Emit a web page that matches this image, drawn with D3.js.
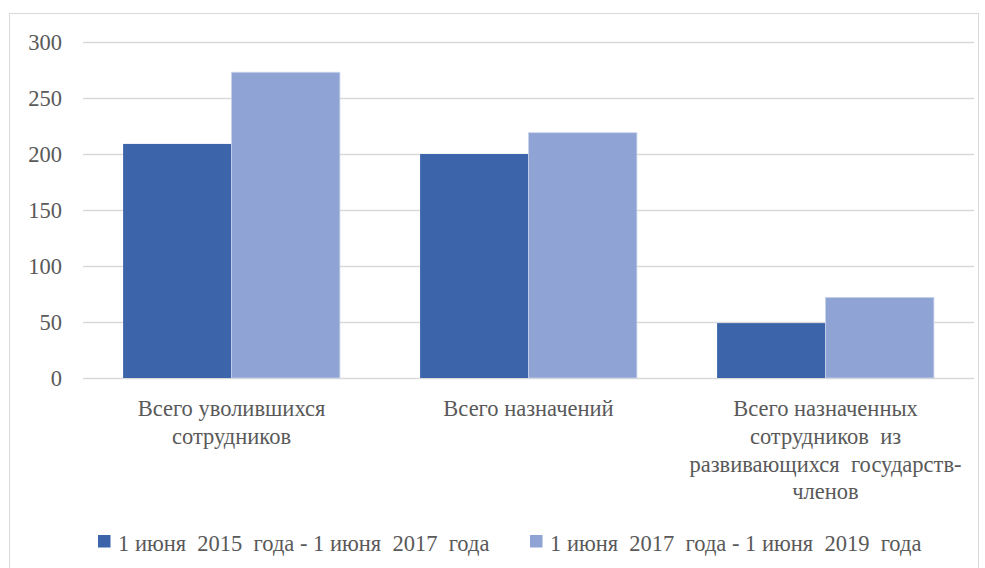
<!DOCTYPE html>
<html>
<head>
<meta charset="utf-8">
<script src="https://cdn.jsdelivr.net/npm/d3@7"></script>
<style>
  body { margin: 0; background: #fff; }
</style>
</head>
<body>
<div id="chart"></div>
<script>
// chart data
var categories = [
  ['Всего уволившихся', 'сотрудников'],
  ['Всего назначений'],
  ['Всего назначенных', 'сотрудников  из', 'развивающихся  государств-', 'членов']
];
var seriesNames = ['1 июня  2015  года - 1 июня  2017  года', '1 июня  2017  года - 1 июня  2019  года'];
var series2015 = [209, 200, 49];
var series2017 = [273, 219, 72];
var yTicks = [0, 50, 100, 150, 200, 250, 300];

var svgWidth = 985;
var svgHeight = 568;

var margin = { top: 42, right: 11, bottom: 190, left: 83 };
var width = svgWidth - margin.left - margin.right;
var height = svgHeight - margin.top - margin.bottom;

var colors = ['#3c64ab', '#8fa3d4'];
var fontFamily = "'Liberation Serif', 'Times New Roman', Times, Tinos, 'Nimbus Roman', 'Noto Serif', FreeSerif, 'DejaVu Serif', serif";
var textColor = '#595959';

var svg = d3.select('#chart').append('svg')
  .attr('width', svgWidth)
  .attr('height', svgHeight);

// outer frame
svg.append('rect')
  .attr('x', 9.5).attr('y', 13.5)
  .attr('width', 969).attr('height', 560)
  .attr('fill', 'none')
  .attr('stroke', '#d9d9d9');

var chartGroup = svg.append('g')
  .attr('transform', `translate(${margin.left}, ${margin.top})`);

var x0 = d3.scaleBand()
  .domain(d3.range(categories.length))
  .range([0, width])
  .paddingInner(0.27)
  .paddingOuter(0.135);

var x1 = d3.scaleBand()
  .domain([0, 1])
  .range([0, x0.bandwidth()]);

var y = d3.scaleLinear()
  .domain([0, 300])
  .range([height, 0]);

// gridlines
chartGroup.selectAll('.grid')
  .data(yTicks)
  .enter()
  .append('line')
  .attr('x1', 0)
  .attr('x2', width)
  .attr('y1', d => Math.round(y(d)) + 0.5)
  .attr('y2', d => Math.round(y(d)) + 0.5)
  .attr('stroke', '#d9d9d9')
  .attr('stroke-width', 1.3);

// y axis labels
var leftAxis = d3.axisLeft(y).tickValues(yTicks).tickSize(0).tickPadding(21);
var yAxis = chartGroup.append('g').call(leftAxis);
yAxis.select('.domain').remove();
yAxis.attr('font-family', fontFamily).attr('font-size', '22.5px');
yAxis.selectAll('text')
  .attr('fill', textColor);

// bars
var rows = categories.map((c, i) => [series2015[i], series2017[i]]);

var groups = chartGroup.selectAll('.grp')
  .data(rows)
  .enter()
  .append('g')
  .attr('transform', (d, i) => `translate(${x0(i)}, 0)`);

groups.selectAll('rect')
  .data(d => d)
  .enter()
  .append('rect')
  .attr('x', (d, j) => x1(j))
  .attr('y', d => y(d))
  .attr('width', x1.bandwidth())
  .attr('height', d => height - y(d))
  .attr('fill', (d, j) => colors[j])
  .attr('stroke', (d, j) => j === 1 ? '#c9d3ec' : 'none')
  .attr('stroke-width', 0.8);

// category labels
var catGroup = chartGroup.selectAll('.cat')
  .data(categories)
  .enter()
  .append('text')
  .attr('text-anchor', 'middle')
  .attr('font-family', fontFamily)
  .attr('font-size', '22.5px')
  .attr('fill', textColor)
  .style('white-space', 'pre')
  .attr('transform', (d, i) => `translate(${x0(i) + x0.bandwidth() / 2}, ${height + 38})`);

catGroup.selectAll('tspan')
  .data(d => d)
  .enter()
  .append('tspan')
  .attr('x', 0)
  .attr('y', (d, k) => k * 27.8)
  .text(d => d);

// legend
var legendX = [98, 530];
var legend = svg.selectAll('.legend')
  .data(seriesNames)
  .enter()
  .append('g')
  .attr('transform', (d, i) => `translate(${legendX[i]}, 535)`);

legend.append('rect')
  .attr('width', 12.5)
  .attr('height', 12.5)
  .attr('fill', (d, i) => colors[i]);

legend.append('text')
  .attr('x', 20)
  .attr('y', 16)
  .attr('font-family', fontFamily)
  .attr('font-size', '22.5px')
  .attr('fill', textColor)
  .style('white-space', 'pre')
  .text(d => d);
</script>
</body>
</html>
